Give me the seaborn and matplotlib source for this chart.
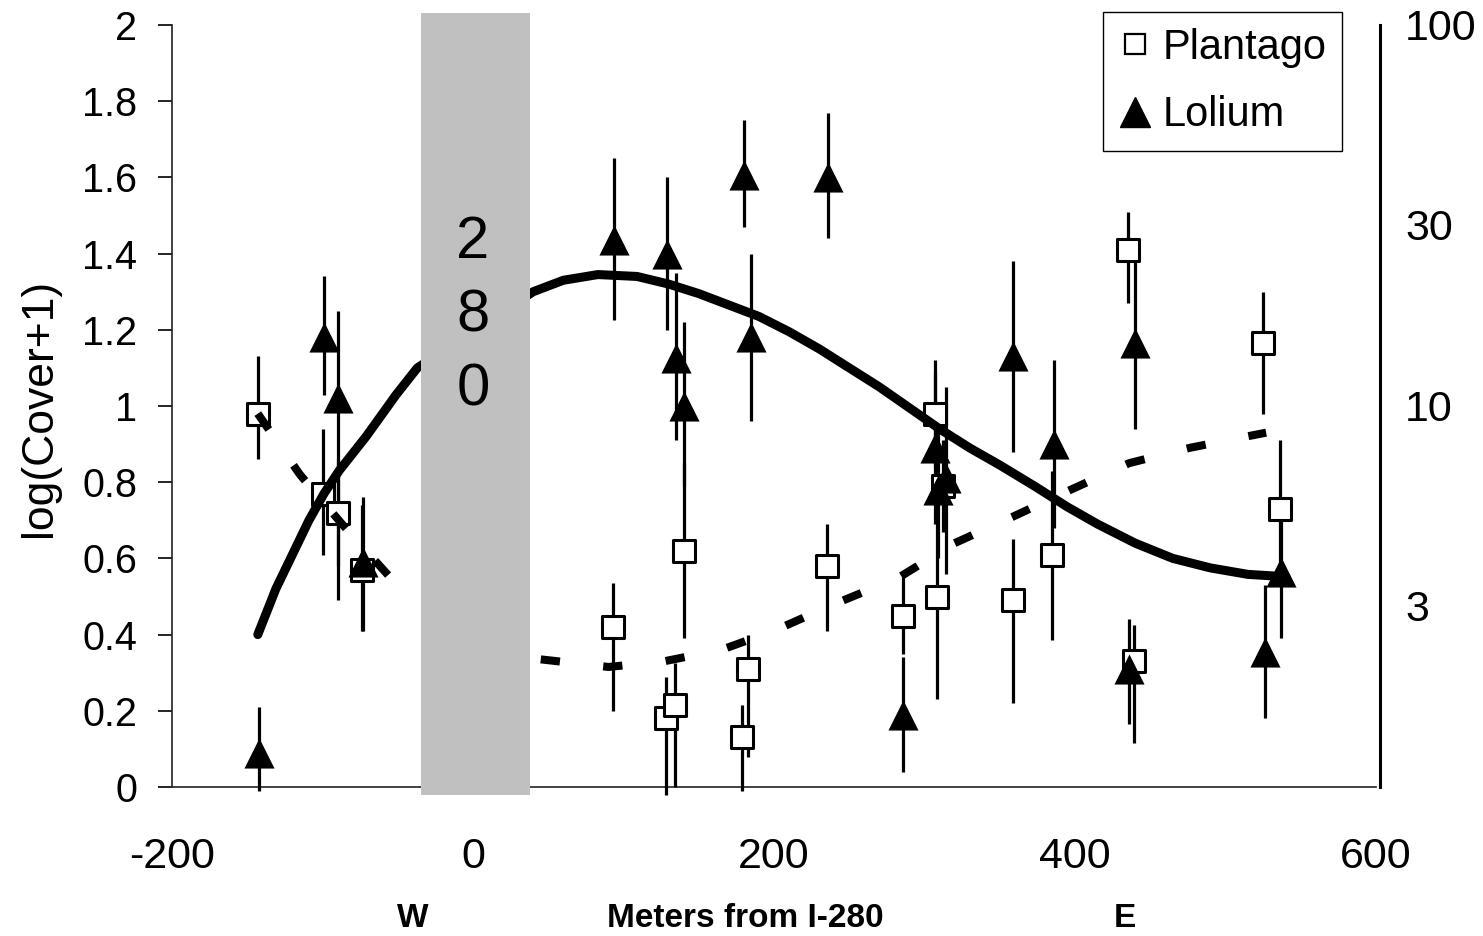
import numpy as np
import pandas as pd
import matplotlib
matplotlib.use('Agg')
import matplotlib.pyplot as plt
import seaborn as sns
from matplotlib.lines import Line2D
from matplotlib.transforms import blended_transform_factory

# Plantago plots (open squares): distance (m), log(cover+1), error bar bottom / top
plantago_x = [-143, -100, -90, -74, 93, 128, 134, 140, 179, 183, 235, 286,
              307, 308, 312, 359, 385, 435, 439, 525, 536]
plantago_y = [0.98, 0.77, 0.72, 0.57, 0.42, 0.18, 0.215, 0.62, 0.13, 0.31, 0.58, 0.45,
              0.98, 0.50, 0.79, 0.49, 0.61, 1.41, 0.33, 1.165, 0.73]
plantago_lo = [0.86, 0.61, 0.58, 0.41, 0.20, -0.02, 0.0, 0.39, -0.01, 0.08, 0.41, 0.35,
               0.84, 0.23, 0.67, 0.22, 0.385, 1.27, 0.115, 0.98, 0.55]
plantago_hi = [1.13, 0.94, 0.86, 0.74, 0.535, 0.29, 0.325, 0.85, 0.215, 0.40, 0.69, 0.55,
               1.12, 0.77, 0.91, 0.65, 0.83, 1.51, 0.425, 1.30, 0.91]

# Lolium plots (filled triangles)
lolium_x = [-142, -99, -90, -73, 94, 129, 135, 140, 180, 185, 236, 286,
            307, 309, 314, 359, 386, 436, 440, 526, 537]
lolium_y = [0.09, 1.18, 1.02, 0.59, 1.436, 1.40, 1.126, 1.0, 1.606, 1.18, 1.60, 0.19,
            0.89, 0.78, 0.81, 1.13, 0.90, 0.31, 1.165, 0.355, 0.565]
lolium_lo = [-0.01, 1.03, 0.49, 0.41, 1.226, 1.20, 0.91, 0.79, 1.47, 0.96, 1.44, 0.04,
             0.69, 0.60, 0.56, 0.88, 0.68, 0.165, 0.94, 0.18, 0.39]
lolium_hi = [0.21, 1.34, 1.25, 0.76, 1.65, 1.60, 1.35, 1.22, 1.75, 1.40, 1.77, 0.34,
             1.09, 0.95, 1.05, 1.38, 1.12, 0.44, 1.38, 0.53, 0.75]

# fitted trends
lolium_fit_x = [-143, -131, -120, -109, -99, -89, -80, -71, -61, -51, -44, -37,
                40, 60, 83, 109, 130, 150, 170, 190, 210, 230, 250, 270, 290, 310,
                330, 350, 373, 395, 415, 440, 465, 490, 515, 540]
lolium_fit_y = [0.40, 0.52, 0.61, 0.70, 0.77, 0.83, 0.875, 0.92, 0.975, 1.03, 1.065, 1.10,
                1.30, 1.33, 1.345, 1.34, 1.32, 1.295, 1.265, 1.235, 1.195, 1.15, 1.10,
                1.05, 0.995, 0.94, 0.89, 0.845, 0.79, 0.735, 0.69, 0.64, 0.60, 0.575,
                0.558, 0.552]
plantago_fit_w_x = [-143, -115, -87, -55]
plantago_fit_w_y = [0.98, 0.82, 0.69, 0.55]
plantago_fit_e_x = [45, 90, 127, 165, 200, 240, 283, 320, 359, 397, 436, 476, 514, 527]
plantago_fit_e_y = [0.335, 0.315, 0.33, 0.36, 0.41, 0.48, 0.55, 0.64, 0.71, 0.78, 0.85,
                    0.89, 0.92, 0.93]

x_ticks = [-200, 0, 200, 400, 600]
x_tick_labels = ['-200', '0', '200', '400', '600']
y_ticks = [0, 0.2, 0.4, 0.6, 0.8, 1.0, 1.2, 1.4, 1.6, 1.8, 2.0]
y_tick_labels = ['0', '0.2', '0.4', '0.6', '0.8', '1', '1.2', '1.4', '1.6', '1.8', '2']
cover_vals = [3, 10, 30, 100]
cover_labels = ['3', '10', '30', '100']

plantago = pd.DataFrame({'x': plantago_x, 'y': plantago_y, 'lo': plantago_lo, 'hi': plantago_hi})
lolium = pd.DataFrame({'x': lolium_x, 'y': lolium_y, 'lo': lolium_lo, 'hi': lolium_hi})

sns.set_style('white')
plt.rcParams['font.family'] = ['Liberation Sans', 'DejaVu Sans']
for k in ['text.color', 'axes.labelcolor', 'xtick.color', 'ytick.color']:
    plt.rcParams[k] = 'black'

fig = plt.figure(figsize=(14.83, 9.36), dpi=100)
ax = fig.add_axes([172/1483, 1-787/936, 1204/1483, 762/936])

# error bars first, markers on top of them
ax.vlines(plantago['x'], plantago['lo'], plantago['hi'], colors='black', linewidth=2.3,
          zorder=3, clip_on=False)
ax.vlines(lolium['x'], lolium['lo'], lolium['hi'], colors='black', linewidth=2.3,
          zorder=3, clip_on=False)

sns.scatterplot(data=plantago, x='x', y='y', marker='s', s=256, color='white',
                edgecolor='black', linewidth=2.2, zorder=4, ax=ax, clip_on=False)
sns.scatterplot(data=lolium, x='x', y='y', marker='^', s=470, color='black',
                edgecolor='black', linewidth=0, zorder=5, ax=ax, clip_on=False)

# trend lines
sns.lineplot(x=lolium_fit_x, y=lolium_fit_y, color='black', linewidth=6.5,
             estimator=None, sort=False, zorder=6, ax=ax)
for fx, fy in [(plantago_fit_w_x, plantago_fit_w_y), (plantago_fit_e_x, plantago_fit_e_y)]:
    sns.lineplot(x=fx, y=fy, color='black', linewidth=5.8, linestyle=(0, (2.4, 5.4)),
                 dash_capstyle='butt', estimator=None, sort=False, zorder=6, ax=ax)

# highway band
ax.axvspan(-34.7, 38, ymin=-0.0105, ymax=1.016, color='#c0c0c0', linewidth=0,
           zorder=7, clip_on=False)
ax.text(0, 1.235, '2\n8\n0', ha='center', va='center', fontsize=43,
        linespacing=1.44, zorder=8)

ax.set_xlim(-200, 600)
ax.set_ylim(0, 2)
ax.set_xticks(x_ticks, x_tick_labels)
ax.set_yticks(y_ticks, y_tick_labels)
ax.tick_params(axis='x', direction='out', length=10, width=1.2, pad=26, labelsize=31)
ax.tick_params(axis='y', direction='out', length=10, width=1.2, pad=15, labelsize=28.5)
ax.set_xlabel('')
ax.set_ylabel('log(Cover+1)', fontsize=32)
ax.yaxis.set_label_coords(-0.093, 0.498)
for s in ['top', 'right']:
    ax.spines[s].set_visible(False)
for s in ['left', 'bottom']:
    ax.spines[s].set_linewidth(1.2)
    ax.spines[s].set_color('#222222')

# right-hand cover axis
ax2 = ax.twinx()
ax2.set_ylim(0, 2)
ax2.set_yticks(np.log10(cover_vals), cover_labels)
ax2.tick_params(axis='y', length=0, pad=18, labelsize=31)
for s in ['top', 'left', 'bottom']:
    ax2.spines[s].set_visible(False)
ax2.spines['right'].set_linewidth(2.2)
ax2.spines['right'].set_color('black')
ax2.spines['right'].set_position(('outward', 3))

# W / E labels under the axis
trans = blended_transform_factory(ax.transData, ax.transAxes)
for xpos, txt in [(-40, 'W'), (181, 'Meters from I-280'), (433, 'E')]:
    ax.text(xpos, -0.172, txt, transform=trans, ha='center', va='center',
            fontsize=24, fontweight='bold')

handles = [Line2D([], [], marker='s', ls='none', markersize=15, mfc='white',
                  mec='black', mew=1.6),
           Line2D([], [], marker='^', ls='none', markersize=22, mfc='black', mec='black')]
leg = ax.legend(handles, ['Plantago', 'Lolium'], loc='upper right',
                bbox_to_anchor=(1342/1483, 1-12/936), bbox_transform=fig.transFigure,
                fontsize=30, frameon=True, fancybox=False, edgecolor='black',
                framealpha=1, borderpad=0.38, handlelength=0.8, handletextpad=0.25,
                labelspacing=0.66, borderaxespad=0)
leg.get_frame().set_linewidth(1.0)
leg.set_zorder(10)

fig.savefig('out.png', dpi=100)
